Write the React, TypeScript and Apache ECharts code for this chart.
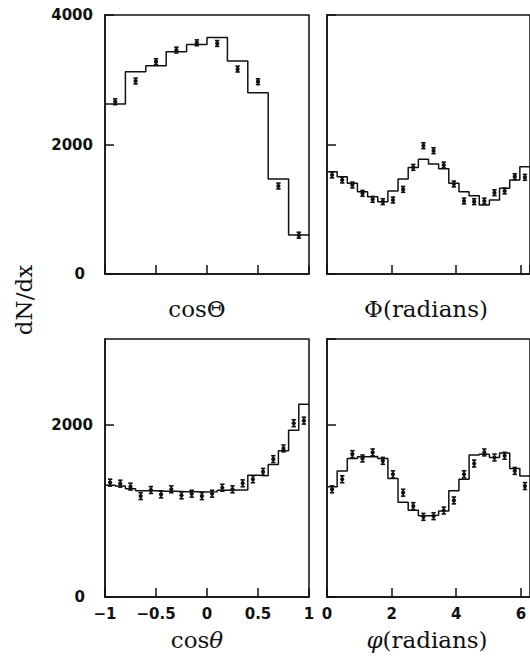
import React, { useEffect, useRef } from 'react';
import * as echarts from 'echarts';

// ---- Data ----
// Top-left: cosΘ, 10 bins over [-1, 1]
const cosThetaCapHist = [2625, 3124, 3217, 3433, 3546, 3654, 3289, 2800, 1467, 602];
const cosThetaCapPts = [2660, 2980, 3279, 3459, 3571, 3560, 3165, 2970, 1359, 600];

// Top-right: Φ (radians), 20 bins over [0, 2π]
const phiCapHist = [1580, 1503, 1400, 1271, 1194, 1117, 1282, 1467, 1646, 1771, 1700, 1625, 1400, 1271, 1209, 1065, 1143, 1323, 1451, 1657];
const phiCapPts = [1529, 1451, 1374, 1246, 1153, 1117, 1143, 1307, 1647, 1981, 1904, 1683, 1390, 1127, 1117, 1127, 1255, 1282, 1503, 1493];

// Bottom-left: cosθ, 20 bins over [-1, 1]
const cosThetaHist = [1300, 1290, 1260, 1235, 1235, 1230, 1230, 1225, 1225, 1220, 1225, 1240, 1245, 1245, 1416, 1410, 1540, 1700, 1940, 2240];
const cosThetaPts = [1330, 1318, 1283, 1173, 1244, 1193, 1252, 1182, 1201, 1173, 1201, 1271, 1252, 1322, 1369, 1455, 1603, 1728, 2021, 2051];

// Bottom-right: φ (radians), 20 bins over [0, 2π]
const phiHist = [1283, 1466, 1611, 1630, 1634, 1611, 1377, 1103, 1010, 945, 950, 1000, 1235, 1369, 1650, 1661, 1622, 1673, 1494, 1408];
const phiPts = [1252, 1369, 1661, 1611, 1681, 1583, 1427, 1213, 1057, 932, 940, 1006, 1123, 1427, 1552, 1681, 1622, 1642, 1466, 1290];

const errTop = 45;
const errBottom = 40;

const cosRange = [-1, 1];
const phiRange = [0, 2 * Math.PI];
const yTicksTop = [0, 4000, 2000];
const yTicksBottom = [0, 3000, 2000];

const TICK_FONT = 'DejaVu Sans';
const TITLE_FONT = 'DejaVu Serif';

function stepData(range: number[], vals: number[]) {
  const w = (range[1] - range[0]) / vals.length;
  const out: number[][] = [];
  vals.forEach((v, i) => {
    out.push([range[0] + i * w, v]);
    out.push([range[0] + (i + 1) * w, v]);
  });
  return out;
}

function pointData(range: number[], vals: number[], err: number) {
  const w = (range[1] - range[0]) / vals.length;
  return vals.map((v, i) => [range[0] + (i + 0.5) * w, v, err]);
}

const renderErr = (params: any, api: any) => {
  const x = api.value(0);
  const y = api.value(1);
  const e = api.value(2);
  const c = api.coord([x, y]);
  const lo = api.coord([x, y - e]);
  const hi = api.coord([x, y + e]);
  const hw = 2.2;
  const style = { stroke: '#111', lineWidth: 1.6 };
  return {
    type: 'group',
    children: [
      { type: 'line', shape: { x1: c[0], y1: lo[1], x2: c[0], y2: hi[1] }, style },
      { type: 'line', shape: { x1: c[0] - hw, y1: lo[1], x2: c[0] + hw, y2: lo[1] }, style },
      { type: 'line', shape: { x1: c[0] - hw, y1: hi[1], x2: c[0] + hw, y2: hi[1] }, style },
      { type: 'circle', shape: { cx: c[0], cy: c[1], r: 2.1 }, style: { fill: '#111' } },
    ],
  };
};

export default function App() {
  const ref = useRef<HTMLDivElement>(null);

  useEffect(() => {
    if (!ref.current) return;
    const chart = echarts.init(ref.current, undefined, { renderer: 'svg' });

    const gridBase = { show: true, borderColor: '#111', borderWidth: 1.5, backgroundColor: 'transparent', containLabel: false };
    const grids = [
      { ...gridBase, left: 105, top: 15, width: 204, height: 259 },
      { ...gridBase, left: 327, top: 15, width: 204, height: 259 },
      { ...gridBase, left: 105, top: 339, width: 204, height: 258 },
      { ...gridBase, left: 327, top: 339, width: 204, height: 258 },
    ];

    const axisLine = { show: true, onZero: false, lineStyle: { color: '#111', width: 1.5 } };
    const axisTick = { show: true, inside: true, length: 9, lineStyle: { color: '#111', width: 1.5 } };
    const tickLabel = { fontFamily: TICK_FONT, fontWeight: 'bold' as const, fontSize: 15, color: '#111' };

    const xAxis = [
      { gridIndex: 0, type: 'value', min: cosRange[0], max: cosRange[1], interval: 0.5, axisLine, axisTick, splitLine: { show: false }, axisLabel: { show: false } },
      { gridIndex: 1, type: 'value', min: phiRange[0], max: phiRange[1], interval: 2, axisLine, axisTick, splitLine: { show: false }, axisLabel: { show: false } },
      {
        gridIndex: 2, type: 'value', min: cosRange[0], max: cosRange[1], interval: 0.5, axisLine, axisTick, splitLine: { show: false },
        axisLabel: { ...tickLabel, margin: 9, formatter: (v: number) => String(v).replace('-', '\u2212') },
      },
      {
        gridIndex: 3, type: 'value', min: phiRange[0], max: phiRange[1], interval: 2, axisLine, axisTick, splitLine: { show: false },
        axisLabel: { ...tickLabel, margin: 9, showMaxLabel: false, formatter: (v: number) => String(v) },
      },
    ];

    const yLabel = {
      ...tickLabel,
      margin: 12,
      showMaxLabel: true,
      formatter: (v: number) => (v === 0 ? '{z|0}' : String(v)),
      rich: { z: { ...tickLabel, padding: [0, 8, 0, 0] } },
    };

    const yAxis = [
      { gridIndex: 0, type: 'value', min: yTicksTop[0], max: yTicksTop[1], interval: yTicksTop[2], axisLine, axisTick, splitLine: { show: false }, axisLabel: yLabel },
      { gridIndex: 1, type: 'value', min: yTicksTop[0], max: yTicksTop[1], interval: yTicksTop[2], axisLine, axisTick, splitLine: { show: false }, axisLabel: { show: false } },
      { gridIndex: 2, type: 'value', min: yTicksBottom[0], max: yTicksBottom[1], interval: yTicksBottom[2], axisLine, axisTick, splitLine: { show: false }, axisLabel: { ...yLabel, showMaxLabel: false } },
      { gridIndex: 3, type: 'value', min: yTicksBottom[0], max: yTicksBottom[1], interval: yTicksBottom[2], axisLine, axisTick, splitLine: { show: false }, axisLabel: { show: false } },
    ];

    const panels = [
      { range: cosRange, hist: cosThetaCapHist, pts: cosThetaCapPts, err: errTop },
      { range: phiRange, hist: phiCapHist, pts: phiCapPts, err: errTop },
      { range: cosRange, hist: cosThetaHist, pts: cosThetaPts, err: errBottom },
      { range: phiRange, hist: phiHist, pts: phiPts, err: errBottom },
    ];

    const series: any[] = [];
    panels.forEach((p, i) => {
      series.push({
        type: 'line', xAxisIndex: i, yAxisIndex: i, data: stepData(p.range, p.hist),
        showSymbol: false, symbol: 'none', lineStyle: { color: '#111', width: 1.5 }, silent: true, z: 2,
      });
      series.push({
        type: 'custom', xAxisIndex: i, yAxisIndex: i, data: pointData(p.range, p.pts, p.err),
        renderItem: renderErr, silent: true, z: 3,
      });
    });

    const titleStyle = (text: string, rich?: any) => ({
      text,
      fontFamily: TITLE_FONT,
      fontSize: 23,
      fontWeight: 'normal',
      fill: '#111',
      align: 'center',
      verticalAlign: 'middle',
      textAlign: 'center',
      textVerticalAlign: 'middle',
      ...(rich ? { rich } : {}),
    });
    const italic = { i: { fontFamily: TITLE_FONT, fontSize: 23, fontWeight: 'normal', fontStyle: 'italic', fill: '#111' } };

    chart.setOption({
      animation: false,
      backgroundColor: '#fff',
      grid: grids,
      xAxis,
      yAxis,
      series,
      graphic: [
        { type: 'text', x: 197, y: 309, style: titleStyle('cosΘ') },
        { type: 'text', x: 426, y: 309, style: titleStyle('Φ(radians)') },
        { type: 'text', x: 197, y: 640, style: titleStyle('cos{i|θ}', italic) },
        { type: 'text', x: 427, y: 640, style: titleStyle('{i|φ}(radians)', italic) },
        { type: 'text', x: 24, y: 300, rotation: Math.PI / 2, style: titleStyle('dN/dx') },
      ],
    });

    return () => chart.dispose();
  }, []);

  return (
    <div
      ref={ref}
      style={{ position: 'absolute', left: 0, top: 0, width: 530, height: 656, background: '#fff' }}
    />
  );
}
